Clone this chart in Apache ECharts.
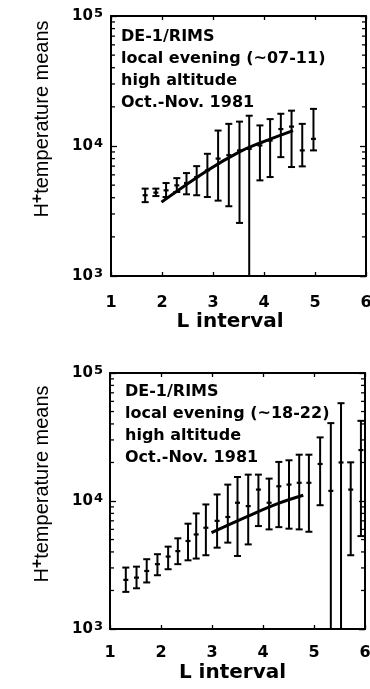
<!DOCTYPE html>
<html style="height: 100%">
<head>
<meta charset="utf-8">
<title>H+ temperature means</title>
<script src="https://cdn.jsdelivr.net/npm/echarts@6/dist/echarts.min.js"></script>
</head>
<body style="height: 100%; margin: 0; background: #fff">
<div id="main" style="width: 370px; height: 689px"></div>
<script type="text/javascript">
// 上图 local evening (~07-11)
var topL    = [1.67, 1.88, 2.08, 2.29, 2.48, 2.68, 2.89, 3.10, 3.31, 3.52, 3.71, 3.92, 4.12, 4.33, 4.54, 4.75, 4.97];
var topMean = [4180, 4380, 4560, 4980, 5190, 5770, 6490, 8000, 8500, 9250, 9500, 10100, 11000, 13500, 14100, 9250, 11350];
var topLow  = [3700, 4120, 4050, 4430, 4250, 4180, 4050, 3800, 3440, 2560, 600, 5440, 5770, 8210, 6890, 6970, 9250];
var topHigh = [4700, 4700, 5190, 5660, 6190, 7000, 8710, 13150, 14800, 15400, 17100, 14400, 16100, 17700, 18700, 14800, 19300];
var topFitL = [1.99, 2.89, 3.51, 3.91, 4.57];
var topFitV = [3700, 6490, 8980, 10500, 13150];

// 下图 local evening (~18-22)
var botL    = [1.31, 1.52, 1.72, 1.93, 2.14, 2.33, 2.53, 2.69, 2.88, 3.10, 3.31, 3.50, 3.71, 3.91, 4.12, 4.31, 4.51, 4.71, 4.90, 5.12, 5.33, 5.53, 5.72, 5.92];
var botMean = [2420, 2520, 2840, 3210, 3680, 4060, 4870, 5480, 6180, 7000, 7500, 9690, 9120, 12280, 9690, 13030, 13430, 13870, 13870, 19470, 12000, 20000, 12280, 25000];
var botLow  = [1950, 2080, 2310, 2630, 2930, 3210, 3440, 3550, 3770, 4320, 4730, 3720, 4580, 6370, 6000, 6250, 6080, 6000, 5750, 9270, 500, 500, 3770, 5320];
var botHigh = [3020, 3070, 3510, 3840, 4400, 5110, 6650, 8000, 9400, 11250, 13430, 15400, 16070, 16070, 14960, 20200, 20800, 23000, 23000, 31400, 40600, 58100, 20050, 42300];
var botFitL = [2.99, 3.71, 4.30, 4.79];
var botFitV = [5660, 7620, 9570, 11090];

var minorVals = [2000, 3000, 4000, 5000, 6000, 7000, 8000, 9000, 20000, 30000, 40000, 50000, 60000, 70000, 80000, 90000];

var topNotes = ['DE-1/RIMS', 'local evening (~07-11)', 'high altitude', 'Oct.-Nov. 1981'];
var botNotes = ['DE-1/RIMS', 'local evening (~18-22)', 'high altitude', 'Oct.-Nov. 1981'];

var boldFont = 'DejaVu Sans';

function rows(L, m, lo, hi) {
	var out = [];
	for (var i = 0; i < L.length; i++) {
		out.push([L[i], m[i], lo[i], hi[i]]);
	}
	return out;
}
function pairs(a, b) {
	var out = [];
	for (var i = 0; i < a.length; i++) out.push([a[i], b[i]]);
	return out;
}

function renderErr(params, api) {
	var x = api.value(0);
	var c = api.coord([x, api.value(1)]);
	var lo = api.coord([x, api.value(2)]);
	var hi = api.coord([x, api.value(3)]);
	var w = 3.5;
	var st = { stroke: '#000', lineWidth: 2 };
	return {
		type: 'group',
		children: [
			{ type: 'line', shape: { x1: c[0], y1: hi[1], x2: c[0], y2: lo[1] }, style: st },
			{ type: 'line', shape: { x1: c[0] - w, y1: hi[1], x2: c[0] + w, y2: hi[1] }, style: st },
			{ type: 'line', shape: { x1: c[0] - w, y1: lo[1], x2: c[0] + w, y2: lo[1] }, style: st },
			{ type: 'line', shape: { x1: c[0] - 2.5, y1: c[1], x2: c[0] + 2.5, y2: c[1] }, style: { stroke: '#000', lineWidth: 2.2 } }
		]
	};
}

function renderMinor(params, api) {
	var cs = params.coordSys;
	var y = api.coord([api.value(0), api.value(1)])[1];
	var st = { stroke: '#000', lineWidth: 1.3 };
	return {
		type: 'group',
		children: [
			{ type: 'line', shape: { x1: cs.x, y1: y, x2: cs.x + 4, y2: y }, style: st },
			{ type: 'line', shape: { x1: cs.x + cs.width - 4, y1: y, x2: cs.x + cs.width, y2: y }, style: st }
		]
	};
}

function xAxisCfg(gi, pos, labelMargin, nameGap, namePad) {
	var a = {
		type: 'value', gridIndex: gi, position: pos, min: 1, max: 6, interval: 1,
		axisLine: { show: true, onZero: false, lineStyle: { color: '#000', width: 2 } },
		axisTick: { show: true, inside: true, length: 4, lineStyle: { color: '#000', width: 1.3 } },
		splitLine: { show: false },
		axisLabel: { show: false }
	};
	if (pos === 'bottom') {
		a.axisLabel = { show: true, margin: labelMargin, color: '#000', fontFamily: boldFont, fontWeight: 'bold', fontSize: 16 };
		a.name = 'L interval';
		a.nameLocation = 'middle';
		a.nameGap = nameGap;
		a.nameTextStyle = { color: '#000', fontFamily: boldFont, fontWeight: 'bold', fontSize: 20, padding: [0, namePad, 0, 0] };
	}
	return a;
}

function yAxisCfg(gi, pos, labelMargin) {
	var a = {
		type: 'log', logBase: 10, gridIndex: gi, position: pos, min: 1000, max: 100000,
		axisLine: { show: true, onZero: false, lineStyle: { color: '#000', width: 2 } },
		axisTick: { show: true, inside: true, length: 6, lineStyle: { color: '#000', width: 1.3 } },
		splitLine: { show: false },
		minorTick: { show: false },
		axisLabel: { show: false }
	};
	if (pos === 'left') {
		a.axisLabel = {
			show: true, margin: labelMargin, color: '#000',
			formatter: function (v) {
				var e = Math.round(Math.log10(v));
				if (Math.abs(Math.pow(10, e) - v) > 1e-6 * v) return '';
				return '{b|10}{s|' + e + '}';
			},
			rich: {
				b: { fontFamily: boldFont, fontWeight: 'bold', fontSize: 15, color: '#000', lineHeight: 18 },
				s: { fontFamily: boldFont, fontWeight: 'bold', fontSize: 13, color: '#000', verticalAlign: 'top', lineHeight: 11, padding: [0, 0, 0, 1] }
			}
		};
	}
	return a;
}

function noteText(lines, x, y) {
	return {
		type: 'text', x: x, y: y,
		style: {
			text: lines.join('\n'),
			font: 'bold 16px "DejaVu Sans"',
			lineHeight: 22,
			fill: '#000'
		}
	};
}

function yTitle(x, y) {
	return {
		type: 'text', x: x, y: y, rotation: Math.PI / 2,
		style: {
			text: '{h|H}{p|+}{t|temperature means}',
			align: 'center', verticalAlign: 'middle',
			rich: {
				h: { fontFamily: 'Liberation Sans', fontSize: 20, fill: '#000', lineHeight: 24 },
				p: { fontFamily: 'Liberation Sans', fontWeight: 'bold', fontSize: 16, fill: '#000', verticalAlign: 'top', lineHeight: 12 },
				t: { fontFamily: 'Liberation Sans', fontSize: 20, fill: '#000', lineHeight: 24 }
			}
		}
	};
}

var myChart = echarts.init(document.getElementById('main'), null, { renderer: 'canvas' });

var option = {
	backgroundColor: '#ffffff',
	animation: false,
	grid: [
		{ left: 111, top: 16, width: 255, height: 260, outerBoundsMode: 'none' },
		{ left: 110, top: 373, width: 255, height: 256, outerBoundsMode: 'none' }
	],
	xAxis: [
		xAxisCfg(0, 'bottom', 19, 34, 17),
		xAxisCfg(0, 'top'),
		xAxisCfg(1, 'bottom', 16, 34, 10),
		xAxisCfg(1, 'top')
	],
	yAxis: [
		yAxisCfg(0, 'left', 8),
		yAxisCfg(0, 'right'),
		yAxisCfg(1, 'left', 7),
		yAxisCfg(1, 'right')
	],
	graphic: [
		noteText(topNotes, 121, 26),
		noteText(botNotes, 125, 381),
		yTitle(42, 119),
		yTitle(42, 484)
	],
	series: [
		{
			type: 'custom', xAxisIndex: 0, yAxisIndex: 0, clip: true, silent: true,
			renderItem: renderMinor,
			data: minorVals.map(function (v) { return [1, v]; })
		},
		{
			type: 'custom', xAxisIndex: 2, yAxisIndex: 2, clip: true, silent: true,
			renderItem: renderMinor,
			data: minorVals.map(function (v) { return [1, v]; })
		},
		{
			type: 'custom', xAxisIndex: 0, yAxisIndex: 0, clip: true,
			renderItem: renderErr,
			encode: { x: 0, y: [1, 2, 3] },
			data: rows(topL, topMean, topLow, topHigh)
		},
		{
			type: 'custom', xAxisIndex: 2, yAxisIndex: 2, clip: true,
			renderItem: renderErr,
			encode: { x: 0, y: [1, 2, 3] },
			data: rows(botL, botMean, botLow, botHigh)
		},
		{
			type: 'line', xAxisIndex: 0, yAxisIndex: 0, smooth: 0.4, showSymbol: false,
			lineStyle: { color: '#000', width: 3 },
			data: pairs(topFitL, topFitV)
		},
		{
			type: 'line', xAxisIndex: 2, yAxisIndex: 2, smooth: 0.4, showSymbol: false,
			lineStyle: { color: '#000', width: 3 },
			data: pairs(botFitL, botFitV)
		}
	]
};
myChart.setOption(option);
</script>
</body>
</html>
